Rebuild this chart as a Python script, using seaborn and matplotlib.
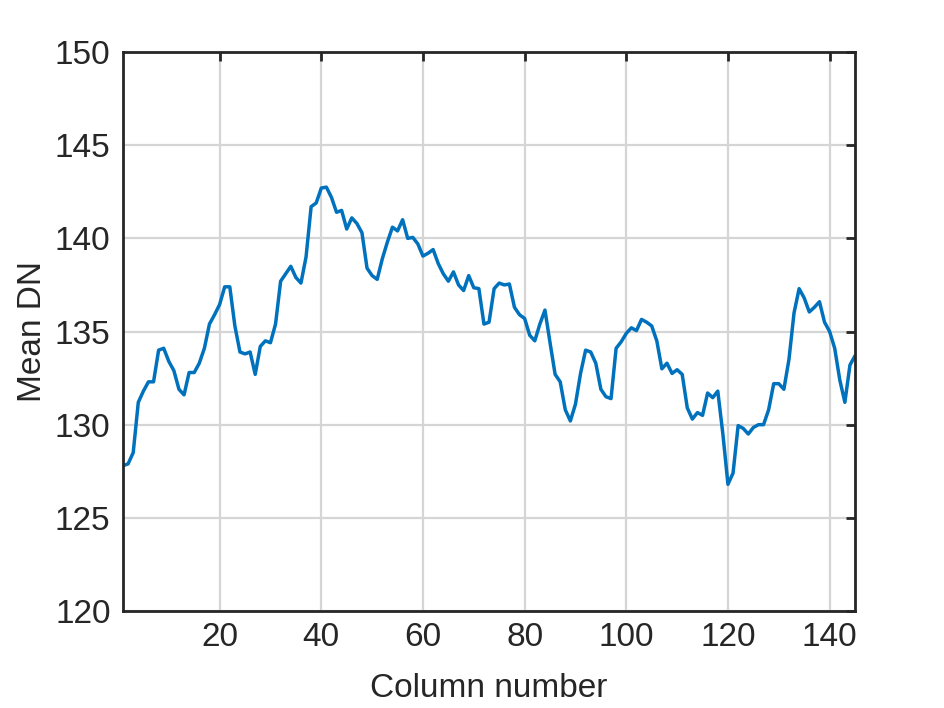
import numpy as np
import pandas as pd
import matplotlib
matplotlib.use('Agg')
import matplotlib.pyplot as plt
import seaborn as sns

# mean DN per column
column = np.arange(1, 146)
mean_dn = [
    127.8, 127.9, 128.5, 131.2, 131.8, 132.3, 132.3, 134.0, 134.1, 133.4,
    132.9, 131.9, 131.6, 132.8, 132.8, 133.3, 134.1, 135.4, 135.9, 136.45,
    137.4, 137.4, 135.3, 133.9, 133.8, 133.9, 132.7, 134.2, 134.5, 134.4,
    135.4, 137.7, 138.1, 138.5, 137.9, 137.6, 139.0, 141.7, 141.9, 142.7,
    142.75, 142.2, 141.4, 141.5, 140.5, 141.1, 140.8, 140.3, 138.4, 138.0,
    137.8, 138.9, 139.8, 140.6, 140.4, 141.0, 140.0, 140.05, 139.7, 139.05,
    139.2, 139.4, 138.65, 138.1, 137.7, 138.2, 137.5, 137.2, 138.0, 137.35,
    137.3, 135.4, 135.5, 137.3, 137.6, 137.5, 137.55, 136.3, 135.9, 135.7,
    134.8, 134.5, 135.4, 136.15, 134.4, 132.7, 132.3, 130.8, 130.2, 131.1,
    132.75, 134.0, 133.9, 133.3, 131.9, 131.5, 131.4, 134.1, 134.45, 134.9,
    135.2, 135.05, 135.65, 135.5, 135.3, 134.5, 133.0, 133.3, 132.75, 132.95,
    132.7, 130.9, 130.3, 130.65, 130.5, 131.7, 131.45, 131.8, 129.5, 126.8,
    127.4, 129.95, 129.8, 129.5, 129.85, 130.0, 130.0, 130.8, 132.2, 132.2,
    131.9, 133.5, 136.0, 137.3, 136.8, 136.05, 136.3, 136.6, 135.5, 135.0,
    134.1, 132.4, 131.2, 133.2, 133.7,
]
x_ticks = [20, 40, 60, 80, 100, 120, 140]
y_ticks = [120, 125, 130, 135, 140, 145, 150]

df = pd.DataFrame({'column': column, 'mean_dn': mean_dn})

sns.set_style('white')
plt.rcParams['font.family'] = ['Liberation Sans', 'DejaVu Sans']
dark = '#262626'

fig = plt.figure(figsize=(9.45, 7.08), dpi=100)
ax = fig.add_axes([0.1302, 0.137, 0.7746, 0.7895])

sns.lineplot(data=df, x='column', y='mean_dn', color='#0072BD', linewidth=2.5, ax=ax)

ax.set_xlim(1, 145)
ax.set_ylim(120, 150)
ax.set_xticks(x_ticks)
ax.set_yticks(y_ticks)
ax.grid(True, color='#d5d5d5', linewidth=1.6)
ax.set_axisbelow(True)

for s in ax.spines.values():
    s.set_visible(True)
    s.set_color(dark)
    s.set_linewidth(2.0)

ax.tick_params(axis='both', direction='in', length=6.5, width=2.0, color=dark,
               labelsize=24, labelcolor=dark, top=True, right=True)
ax.tick_params(axis='x', pad=8)
ax.tick_params(axis='y', pad=9)

ax.set_xlabel('Column number', fontsize=24, color=dark, labelpad=14)
ax.set_ylabel('Mean DN', fontsize=24, color=dark, labelpad=5)

fig.savefig('out.png', dpi=100, facecolor='white')
